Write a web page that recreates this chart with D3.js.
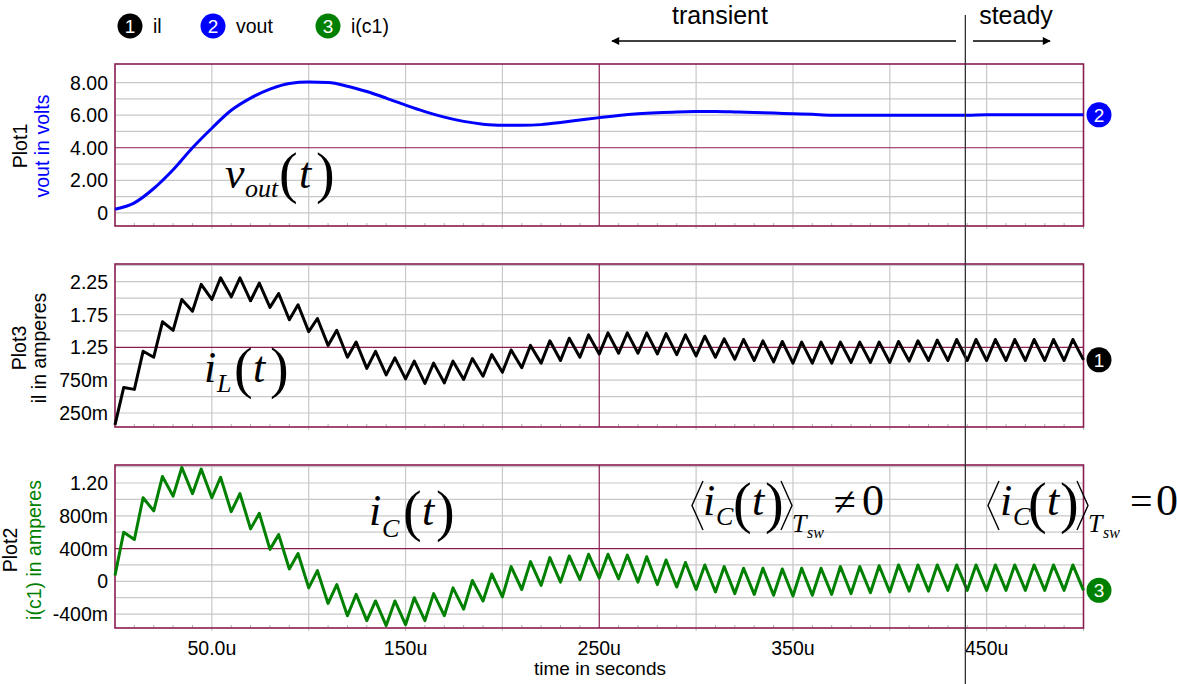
<!DOCTYPE html>
<html><head><meta charset="utf-8">
<script src="https://cdn.jsdelivr.net/npm/d3@7"></script>
<style>body{margin:0;background:#fff}svg{display:block}</style>
</head><body><svg id="c" width="1177" height="684"></svg>
<script>
// ---------------- DATA ----------------
const timeTickValues = [50, 150, 250, 350, 450];
const timeTickLabels = ["50.0u", "150u", "250u", "350u", "450u"];
const tSw = 10;          // switching period (us)
const riseTime = 4.5;    // on-time within period (us)
const steadyStart = 439; // us, boundary transient/steady

// vout sampled every 10 us from 0 to 500 us
const voutTime = d3.range(0, 501, 10);
const voutValues = [0.23, 0.62, 1.50, 2.65, 4.00, 5.20, 6.30, 7.05, 7.60, 7.95,
  8.03, 8.00, 7.78, 7.45, 7.05, 6.62, 6.22, 5.88, 5.62, 5.45,
  5.38, 5.38, 5.42, 5.55, 5.70, 5.85, 5.98, 6.08, 6.15, 6.20,
  6.22, 6.22, 6.20, 6.17, 6.13, 6.09, 6.05, 6.00, 5.99, 5.99,
  5.99, 5.99, 5.99, 5.99, 5.99, 6.02, 6.02, 6.02, 6.02, 6.02, 6.02];

// inductor current: value at start of each period (valley) and at end of on-time (peak)
const ilValley = [0.07, 0.61, 1.10, 1.51, 1.80, 1.98, 2.02, 1.96, 1.86, 1.67,
  1.49, 1.28, 1.10, 0.93, 0.83, 0.77, 0.70, 0.71, 0.76, 0.81,
  0.87, 0.94, 1.01, 1.05, 1.10, 1.15, 1.16, 1.16, 1.15, 1.14,
  1.12, 1.10, 1.07, 1.05, 1.03, 1.01, 1.01, 1.01, 1.02, 1.02,
  1.02, 1.04, 1.05, 1.05, 1.05, 1.05, 1.05, 1.05, 1.05, 1.05, 1.06];
const ilPeak = [0.64, 1.19, 1.64, 1.98, 2.21, 2.31, 2.31, 2.23, 2.07, 1.90,
  1.69, 1.51, 1.33, 1.19, 1.09, 1.04, 1.01, 1.04, 1.08, 1.14,
  1.21, 1.28, 1.35, 1.39, 1.44, 1.47, 1.47, 1.47, 1.46, 1.44,
  1.42, 1.38, 1.37, 1.35, 1.34, 1.33, 1.33, 1.33, 1.33, 1.33,
  1.34, 1.35, 1.36, 1.37, 1.37, 1.37, 1.37, 1.37, 1.37, 1.37];

// capacitor current
const icValley = [0.07, 0.51, 0.86, 1.04, 1.07, 1.02, 0.85, 0.64, 0.39, 0.15,
  -0.08, -0.27, -0.42, -0.48, -0.54, -0.53, -0.48, -0.42, -0.34, -0.24,
  -0.19, -0.10, -0.05, -0.01, 0.02, 0.04, 0.03, -0.01, -0.04, -0.07,
  -0.10, -0.13, -0.15, -0.16, -0.17, -0.18, -0.17, -0.16, -0.15, -0.14,
  -0.13, -0.12, -0.12, -0.11, -0.11, -0.11, -0.11, -0.11, -0.11, -0.11, -0.11];
const icPeak = [0.60, 1.02, 1.28, 1.39, 1.37, 1.27, 1.07, 0.83, 0.57, 0.34,
  0.13, -0.04, -0.16, -0.24, -0.24, -0.20, -0.15, -0.08, 0.01, 0.09,
  0.18, 0.24, 0.29, 0.31, 0.33, 0.33, 0.32, 0.30, 0.26, 0.23,
  0.20, 0.18, 0.16, 0.16, 0.15, 0.16, 0.16, 0.18, 0.18, 0.19,
  0.20, 0.20, 0.20, 0.20, 0.20, 0.20, 0.20, 0.20, 0.20, 0.20];

const plot1TickValues = [0, 2, 4, 6, 8];
const plot1TickLabels = ["0", "2.00", "4.00", "6.00", "8.00"];
const plot3TickValues = [0.25, 0.75, 1.25, 1.75, 2.25];
const plot3TickLabels = ["250m", "750m", "1.25", "1.75", "2.25"];
const plot2TickValues = [-0.4, 0, 0.4, 0.8, 1.2];
const plot2TickLabels = ["-400m", "0", "400m", "800m", "1.20"];

const legendNames = ["il", "vout", "i(c1)"];
const legendColors = ["#000000", "#0000ff", "#008000"];

// ---------------- BUILD ----------------
function switchingPoints(valley, peak) {
  const pts = [];
  for (let k = 0; k < peak.length; k++) {
    pts.push([k * tSw, valley[k]]);
    pts.push([k * tSw + riseTime, peak[k]]);
  }
  pts.push([peak.length * tSw, valley[peak.length]]);
  return pts;
}
const voutPts = voutTime.map((t, i) => [t, voutValues[i]]);
const ilPts = switchingPoints(ilValley, ilPeak);
const icPts = switchingPoints(icValley, icPeak);

const svg = d3.select("#c");
svg.append("rect").attr("width", 1177).attr("height", 684).attr("fill", "#fff");
const SANS = "'Liberation Sans', Arial, sans-serif";
const SERIF = "'Liberation Serif', 'Times New Roman', serif";
const MAROON = "#8a1c50";
const GRID = "#c8c8c8";

const x = d3.scaleLinear().domain([0, 500]).range([115, 1083.5]);

const panels = [
  { top: 64, bottom: 226, domain: [-0.8, 9.14], grid: d3.range(0, 8.01, 1), major: 4,
    ticks: plot1TickValues, labels: plot1TickLabels, pts: voutPts, color: "#0000ff",
    curve: d3.curveMonotoneX, num: 2, label1: "Plot1", label2: "vout in volts", l2color: "#0000ff",
    lx1: 20, lx2: 42, ly: 146 },
  { top: 264, bottom: 427, domain: [0.037, 2.52], grid: d3.range(0.25, 2.51, 0.25), major: 1.25,
    ticks: plot3TickValues, labels: plot3TickLabels, pts: ilPts, color: "#000000",
    curve: d3.curveLinear, num: 1, label1: "Plot3", label2: "il in amperes", l2color: "#000000",
    lx1: 19, lx2: 39, ly: 348 },
  { top: 465, bottom: 628, domain: [-0.57, 1.42], grid: d3.range(-0.4, 1.41, 0.2), major: 0.4,
    ticks: plot2TickValues, labels: plot2TickLabels, pts: icPts, color: "#008000",
    curve: d3.curveLinear, num: 3, label1: "Plot2", label2: "i(c1) in amperes", l2color: "#008000",
    lx1: 10, lx2: 34, ly: 550 }
];

panels.forEach(p => {
  const y = d3.scaleLinear().domain(p.domain).range([p.bottom, p.top]);
  const g = svg.append("g");
  g.selectAll(".hg").data(p.grid.filter(v => Math.abs(v - p.major) > 1e-6)).join("line")
    .attr("x1", x(0)).attr("x2", x(500)).attr("y1", d => y(d)).attr("y2", d => y(d))
    .attr("stroke", GRID).attr("stroke-width", 1.2);
  const vg = d3.range(50, 451, 50);
  g.selectAll(".vg").data(vg.filter(v => v !== 250)).join("line")
    .attr("x1", d => x(d)).attr("x2", d => x(d)).attr("y1", p.top).attr("y2", p.bottom + 3)
    .attr("stroke", GRID).attr("stroke-width", 1.2);
  g.selectAll(".mt").data(d3.range(10, 500, 10).filter(v => v % 50 !== 0)).join("line")
    .attr("x1", d => x(d)).attr("x2", d => x(d)).attr("y1", p.bottom - 3).attr("y2", p.bottom)
    .attr("stroke", "#b0b0b0").attr("stroke-width", 1);
  g.append("line").attr("x1", x(500)).attr("x2", x(500)).attr("y1", p.bottom).attr("y2", p.bottom + 3)
    .attr("stroke", "#b0b0b0");
  g.append("line").attr("x1", x(0)).attr("x2", x(500)).attr("y1", y(p.major)).attr("y2", y(p.major))
    .attr("stroke", MAROON).attr("stroke-width", 1.2);
  g.append("line").attr("x1", x(250)).attr("x2", x(250)).attr("y1", p.top).attr("y2", p.bottom)
    .attr("stroke", MAROON).attr("stroke-width", 1.2);
  g.append("rect").attr("x", x(0)).attr("y", p.top).attr("width", x(500) - x(0)).attr("height", p.bottom - p.top)
    .attr("fill", "none").attr("stroke", MAROON).attr("stroke-width", 1.6);
  g.selectAll(".tl").data(p.ticks).join("text")
    .attr("x", 108).attr("y", d => y(d)).attr("dy", "0.36em").attr("text-anchor", "end")
    .attr("font-family", SANS).attr("font-size", 19.5).text((d, i) => p.labels[i]);
  g.append("text").attr("transform", `translate(${p.lx1},${p.ly}) rotate(-90)`).attr("text-anchor", "middle")
    .attr("dy", "0.35em").attr("font-family", SANS).attr("font-size", 19.5).text(p.label1);
  g.append("text").attr("transform", `translate(${p.lx2},${p.ly}) rotate(-90)`).attr("text-anchor", "middle")
    .attr("dy", "0.35em").attr("font-family", SANS).attr("font-size", 19.5).attr("fill", p.l2color).text(p.label2);
  g.append("path").datum(p.pts)
    .attr("d", d3.line().x(d => x(d[0])).y(d => y(d[1])).curve(p.curve))
    .attr("fill", "none").attr("stroke", p.color).attr("stroke-width", 3).attr("stroke-linejoin", "round");
  const last = p.pts[p.pts.length - 1];
  const my = y(last[1]);
  g.append("circle").attr("cx", 1099).attr("cy", my).attr("r", 12.5).attr("fill", p.color);
  g.append("text").attr("x", 1099).attr("y", my).attr("dy", "0.36em").attr("text-anchor", "middle")
    .attr("font-family", SANS).attr("font-size", 19).attr("fill", "#fff").text(p.num);
});

svg.selectAll(".xl").data(timeTickValues).join("text")
  .attr("x", d => x(d)).attr("y", 655).attr("text-anchor", "middle")
  .attr("font-family", SANS).attr("font-size", 19.5).text((d, i) => timeTickLabels[i]);
svg.append("text").attr("x", 600).attr("y", 675).attr("text-anchor", "middle")
  .attr("font-family", SANS).attr("font-size", 19).text("time in seconds");

const legX = [130, 213, 328];
legendNames.forEach((n, i) => {
  svg.append("circle").attr("cx", legX[i]).attr("cy", 26).attr("r", 12.5).attr("fill", legendColors[i]);
  svg.append("text").attr("x", legX[i]).attr("y", 26).attr("dy", "0.36em").attr("text-anchor", "middle")
    .attr("font-family", SANS).attr("font-size", 19).attr("fill", "#fff").text(i + 1);
  svg.append("text").attr("x", legX[i] + 23).attr("y", 33).attr("font-family", SANS).attr("font-size", 19.5).text(n);
});

const xs = x(steadyStart);
svg.append("line").attr("x1", xs).attr("x2", xs).attr("y1", 15).attr("y2", 684).attr("stroke", "#333").attr("stroke-width", 1.3);
const defs = svg.append("defs");
defs.append("marker").attr("id", "ah").attr("viewBox", "0 0 10 10").attr("refX", 9).attr("refY", 5)
  .attr("markerWidth", 10).attr("markerHeight", 8).attr("markerUnits", "userSpaceOnUse").attr("orient", "auto-start-reverse")
  .append("path").attr("d", "M0,0 L10,5 L0,10 z").attr("fill", "#000");
svg.append("line").attr("x1", 612).attr("x2", 956).attr("y1", 41).attr("y2", 41).attr("stroke", "#000").attr("stroke-width", 1.3)
  .attr("marker-start", "url(#ah)");
svg.append("line").attr("x1", 973).attr("x2", 1050).attr("y1", 41).attr("y2", 41).attr("stroke", "#000").attr("stroke-width", 1.3)
  .attr("marker-end", "url(#ah)");
svg.append("text").attr("x", 720).attr("y", 24).attr("text-anchor", "middle").attr("font-family", SANS).attr("font-size", 25).text("transient");
svg.append("text").attr("x", 1016).attr("y", 24).attr("text-anchor", "middle").attr("font-family", SANS).attr("font-size", 25).text("steady");

function piece(txt, px, py, size, italic) {
  svg.append("text").attr("x", px).attr("y", py).attr("font-family", SERIF).attr("font-size", size)
    .attr("font-style", italic ? "italic" : "normal").text(txt);
}
function angle(x0, x1, yt, yb) {
  svg.append("path").attr("d", `M${x1},${yt} L${x0},${(yt + yb) / 2} L${x1},${yb}`)
    .attr("fill", "none").attr("stroke", "#000").attr("stroke-width", 1.4);
}
// v_out(t)
piece("v", 225, 188, 44, true); piece("out", 245, 197, 26, true);
piece("(", 279, 192, 56, false); piece("t", 299, 188, 44, true); piece(")", 316, 192, 56, false);
// i_L(t)
piece("i", 204, 382, 44, true); piece("L", 217, 392, 26, true);
piece("(", 234, 387, 56, false); piece("t", 253, 382, 44, true); piece(")", 270, 387, 56, false);
// i_C(t)
piece("i", 369, 525, 44, true); piece("C", 382, 537, 26, true);
piece("(", 403, 530, 56, false); piece("t", 422, 525, 44, true); piece(")", 436, 530, 56, false);
// <i_C(t)>_Tsw != 0
angle(692, 703, 481, 530);
piece("i", 703, 515, 44, true); piece("C", 716, 525, 26, true);
piece("(", 733, 522, 56, false); piece("t", 752, 515, 44, true); piece(")", 765, 522, 56, false);
angle(792, 781, 481, 530);
piece("T", 792, 532, 26, true); piece("sw", 807, 538, 16, true);
piece("\u2260", 834, 515, 40, false); piece("0", 862, 515, 44, false);
// <i_C(t)>_Tsw = 0
angle(988, 999, 481, 530);
piece("i", 1000, 515, 44, true); piece("C", 1013, 525, 26, true);
piece("(", 1028, 522, 56, false); piece("t", 1047, 515, 44, true); piece(")", 1060, 522, 56, false);
angle(1088, 1077, 481, 530);
piece("T", 1088, 532, 26, true); piece("sw", 1103, 538, 16, true);
piece("=", 1130, 515, 40, false); piece("0", 1156, 515, 44, false);
</script></body></html>
